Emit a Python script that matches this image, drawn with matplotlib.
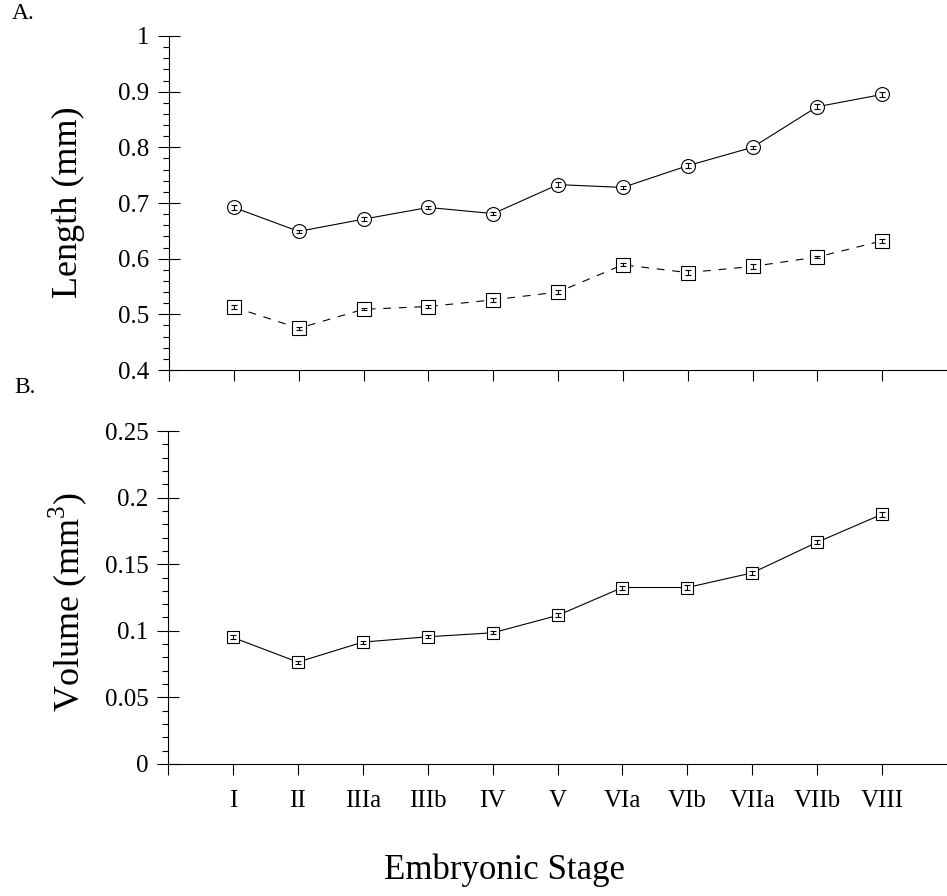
import matplotlib
matplotlib.use("Agg")
import matplotlib.pyplot as plt
from matplotlib.ticker import MultipleLocator, FixedLocator

plt.rcParams['font.family'] = ['Liberation Serif', 'DejaVu Serif']
plt.rcParams['mathtext.fontset'] = 'custom'
plt.rcParams['mathtext.rm'] = 'Liberation Serif'

stages = ["I", "II", "IIIa", "IIIb", "IV", "V", "VIa", "VIb", "VIIa", "VIIb", "VIII"]
length_circle = [0.692, 0.649, 0.671, 0.692, 0.681, 0.733, 0.728, 0.767, 0.800, 0.873, 0.895]
length_circle_err = [0.005, 0.003, 0.003, 0.003, 0.003, 0.004, 0.003, 0.004, 0.003, 0.004, 0.004]
length_square = [0.513, 0.475, 0.509, 0.514, 0.526, 0.540, 0.589, 0.575, 0.586, 0.603, 0.632]
length_square_err = [0.004, 0.003, 0.002, 0.003, 0.003, 0.004, 0.003, 0.005, 0.004, 0.002, 0.004]
volume = [0.095, 0.0765, 0.0915, 0.0955, 0.0985, 0.1115, 0.1325, 0.1325, 0.1435, 0.1665, 0.1875]
volume_err = [0.0015, 0.0012, 0.0012, 0.0012, 0.0012, 0.0015, 0.0015, 0.002, 0.0015, 0.0015, 0.0018]

W, H = 947, 896
fig = plt.figure(figsize=(W / 100, H / 100), dpi=100)

x = list(range(1, len(stages) + 1))
LW = 0.8

def style_axes(ax, ylo, yhi, major, minor):
    ax.set_xlim(0, 12)
    ax.set_ylim(ylo, yhi)
    for s in ['top', 'right']:
        ax.spines[s].set_visible(False)
    for s in ['left', 'bottom']:
        ax.spines[s].set_linewidth(LW)
    ax.xaxis.set_major_locator(FixedLocator(list(range(0, 12))))
    ax.yaxis.set_major_locator(MultipleLocator(major))
    ax.yaxis.set_minor_locator(MultipleLocator(minor))
    ax.tick_params(axis='y', which='major', direction='inout', length=16, width=LW,
                   labelsize=18, pad=6)
    ax.tick_params(axis='y', which='minor', direction='out', length=4, width=LW)
    ax.tick_params(axis='x', which='major', direction='out', length=8, width=LW,
                   labelsize=18, pad=11)

# Panel A
axA = fig.add_axes([169 / W, 1 - 370 / H, (W - 169) / W, (370 - 36) / H])
style_axes(axA, 0.4, 1.0, 0.1, 0.02)
axA.set_yticks([0.4, 0.5, 0.6, 0.7, 0.8, 0.9, 1.0])
axA.set_yticklabels(['0.4', '0.5', '0.6', '0.7', '0.8', '0.9', '1'])
axA.set_xticklabels([])
axA.plot(x, length_circle, color='black', lw=LW, marker='o', ms=10,
         mfc='white', mec='black', mew=LW, zorder=2, clip_on=False)
axA.plot(x, length_square, color='black', lw=LW, ls=(0, (7, 7)), marker='s', ms=10,
         mfc='white', mec='black', mew=LW, zorder=2, clip_on=False)
axA.errorbar(x, length_circle, yerr=length_circle_err, fmt='none', ecolor='black',
             elinewidth=LW, capsize=2.2, capthick=LW, zorder=3)
axA.errorbar(x, length_square, yerr=length_square_err, fmt='none', ecolor='black',
             elinewidth=LW, capsize=2.2, capthick=LW, zorder=3)

# Panel B
axB = fig.add_axes([168 / W, 1 - 764 / H, (W - 168) / W, (764 - 431) / H])
style_axes(axB, 0.0, 0.25, 0.05, 0.01)
axB.set_yticks([0, 0.05, 0.1, 0.15, 0.2, 0.25])
axB.set_yticklabels(['0', '0.05', '0.1', '0.15', '0.2', '0.25'])
axB.set_xticklabels([''] + stages)
axB.plot(x, volume, color='black', lw=LW, marker='s', ms=8,
         mfc='white', mec='black', mew=LW, zorder=2, clip_on=False)
axB.errorbar(x, volume, yerr=volume_err, fmt='none', ecolor='black',
             elinewidth=LW, capsize=2.2, capthick=LW, zorder=3)

fig.text(68 / W, 1 - 202 / H, 'Length (mm)', rotation=90, ha='center', va='center', fontsize=26)
fig.text(68 / W, 1 - 602 / H, r'Volume (mm$^{3}$)', rotation=90, ha='center', va='center', fontsize=26)
fig.text(505 / W, 1 - 870 / H, 'Embryonic Stage', ha='center', va='center', fontsize=25)
fig.text(12 / W, 1 - 3 / H, 'A.', ha='left', va='top', fontsize=17)
fig.text(14 / W, 1 - 377 / H, 'B.', ha='left', va='top', fontsize=17)

fig.savefig('out.png', dpi=100)
